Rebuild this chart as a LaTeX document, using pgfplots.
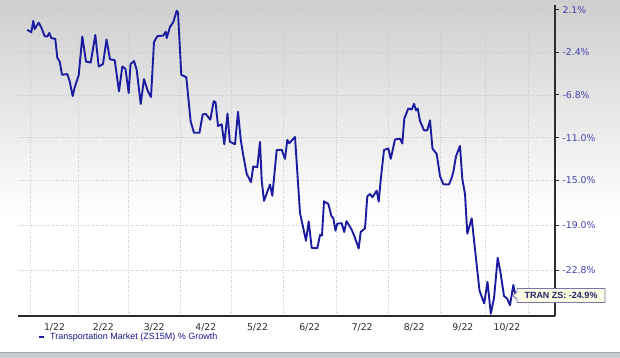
\documentclass[border=0pt]{standalone}
\usepackage{fontspec}
\setmainfont{Liberation Sans}
\newfontfamily\dv{DejaVu Sans}
\usepackage{pgfplots}
\pgfplotsset{compat=1.18}
\definecolor{linec}{RGB}{28,28,160}
\definecolor{ticklab}{RGB}{65,65,170}
\definecolor{axisc}{RGB}{45,45,45}
\definecolor{gridc}{RGB}{200,200,200}
\definecolor{boxfill}{RGB}{253,251,228}
\definecolor{boxdraw}{RGB}{120,120,175}
\definecolor{boxtext}{RGB}{35,35,100}
\definecolor{barc}{RGB}{198,203,210}
\begin{document}
\begin{tikzpicture}[x=1pt,y=1pt]
\useasboundingbox (0,0) rectangle (620,358);
\fill[white] (0,0) rectangle (620,358);
\shade[top color=black!19, bottom color=white] (0,358) rectangle (620,140);
\fill[barc] (0,0) rectangle (620,6);
\draw[black!35, line width=0.8pt] (0,6) -- (620,6);
\begin{axis}[
  at={(18pt,42pt)}, anchor=south west,
  scale only axis, width=537pt, height=311pt,
  xmin=18, xmax=555, ymin=-26.52, ymax=2.65,
  y coord trafo/.code={\pgfmathparse{100*ln(1+#1/100)}},
  axis x line*=bottom, axis y line*=right,
  axis line style={axisc, line width=1.8pt},
  xtick={54.5,103.3,154.2,205.8,257.5,309.7,362.2,414.2,462.9,507},
  xticklabels={1/22,2/22,3/22,4/22,5/22,6/22,7/22,8/22,9/22,10/22},
  xtick style={draw=none},
  minor xtick={30.7,78.3,128.3,180,231.7,283.3,336,388.3,440,485.7,528.3},
  minor x tick style={draw=none},
  xminorgrids=true,
  ytick={2.1,-2.4,-6.8,-11.0,-15.0,-19.0,-22.8},
  yticklabels={2.1\%,-2.4\%,-6.8\%,-11.0\%,-15.0\%,-19.0\%,-22.8\%},
  ymajorgrids=true,
  tick align=outside, major tick length=4pt,
  ytick style={axisc, line width=1pt},
  grid style={gridc, dash pattern=on 1pt off 1.5pt, line width=0.6pt},
  minor grid style={gridc, dash pattern=on 1pt off 1.5pt, line width=0.6pt},
  yticklabel style={font=\dv\fontsize{9.3}{11}\selectfont, text=ticklab},
  xticklabel style={font=\dv\fontsize{9.3}{11}\selectfont, text=axisc},
]
\addplot[linec, line width=1.9pt, line join=round, mark=none] coordinates {
(27.3,-0.05)(31.3,-0.32)(33.3,0.91)(34.7,0.02)(35.7,0.20)(38.7,0.72)(41.3,0.20)(44.7,-0.74)(47.3,-0.78)(49.3,-0.39)(51.3,-0.94)(55.3,-1.02)(57.3,-3.01)(59.7,-3.41)(62,-4.77)(67.3,-4.70)(69.7,-5.44)(72.7,-6.93)(74.7,-6.05)(78.7,-4.83)(82.3,-0.78)(86,-3.41)(90.7,-3.51)(95.3,-0.60)(98.7,-3.92)(103,-3.66)(106.5,-1.09)(110,-3.18)(114.7,-3.25)(119,-6.46)(122.3,-3.92)(125.5,-4.16)(128.7,-6.63)(130.5,-3.69)(134,-3.35)(136.7,-4.27)(140.7,-7.71)(144,-5.21)(147.7,-6.40)(151,-7.03)(154,-1.36)(157.3,-0.74)(163.3,-0.67)(165.7,-0.26)(166.7,-0.94)(170,0.26)(173.3,0.78)(176.7,2.02)(178,1.82)(181.3,-4.77)(186.3,-5.03)(190.7,-9.45)(194,-10.52)(199.5,-10.52)(202.7,-8.74)(205.8,-8.70)(210.3,-9.26)(213.7,-7.44)(215.5,-7.51)(218,-9.87)(221.7,-9.71)(224.3,-11.62)(227.5,-8.67)(229.8,-11.37)(235,-11.62)(238,-8.48)(240.7,-11.16)(243.3,-12.69)(246.7,-14.39)(251,-15.15)(253.3,-13.70)(257.3,-13.77)(260,-11.40)(261.7,-15.00)(264,-16.84)(267.7,-15.92)(270,-15.37)(272.3,-16.38)(276.7,-12.17)(281.7,-12.14)(285,-13.00)(287.3,-11.21)(289.3,-11.53)(295,-10.93)(300,-17.92)(306,-20.32)(308.7,-18.66)(311.7,-20.93)(317.3,-20.96)(320,-19.84)(322,-19.88)(324,-16.88)(328.3,-17.12)(331.5,-18.20)(333.3,-18.36)(335.5,-19.47)(337.3,-18.85)(341.7,-18.82)(344.2,-19.58)(346.5,-18.63)(351.7,-19.38)(355,-20.08)(358.7,-20.99)(360.7,-19.56)(365,-19.27)(367.3,-16.43)(370,-16.23)(372.5,-16.51)(376.7,-15.92)(378.7,-16.91)(380.8,-14.85)(384,-12.17)(388.3,-12.02)(390.7,-13.00)(395,-11.16)(400,-11.09)(402.3,-11.55)(404.3,-9.16)(408.3,-8.16)(411.7,-8.26)(414,-7.70)(416,-8.35)(417.7,-8.16)(420,-9.38)(424,-10.29)(427.3,-10.29)(430,-9.32)(432.5,-12.04)(436.7,-12.54)(440,-14.60)(443.3,-15.34)(449,-15.37)(451.7,-14.74)(453.3,-14.23)(456,-12.75)(460,-11.78)(462.3,-14.85)(465,-16.23)(467.3,-19.73)(471.7,-18.39)(475,-21.05)(479.5,-24.48)(484.2,-25.52)(487.5,-23.76)(490.8,-26.34)(494,-25.09)(497.7,-21.77)(500.5,-23.00)(504,-24.92)(507,-25.11)(510,-25.66)(513.3,-24.03)(515.5,-24.9)
};
\end{axis}
% callout
\filldraw[fill=boxfill, draw=boxdraw, line width=0.9pt, line join=round]
  (517,69.5) -- (605,69.5) -- (605,55.5) -- (517,55.5) -- (517,59) -- (512.5,62.5) -- (517,66) -- cycle;
\node[font=\bfseries\fontsize{9}{10}\selectfont, text=boxtext, inner sep=0pt] at (561,62.5) {TRAN ZS: -24.9\%};
% legend
\draw[linec, line width=2pt] (39.3,20.5) -- (43.5,20.5);
\node[anchor=west, inner sep=0pt, font=\fontsize{9}{10}\selectfont, text=linec!85!black] at (50,20.5) {Transportation Market (ZS15M) \% Growth};
\end{tikzpicture}
\end{document}
